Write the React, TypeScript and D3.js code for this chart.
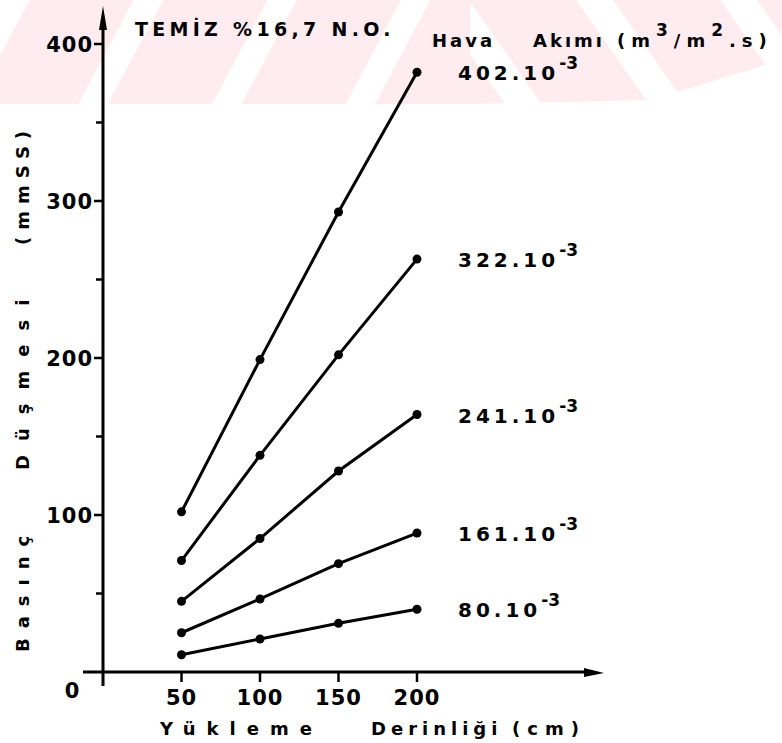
import React from "react";
import * as d3 from "d3";

// Yükleme derinliği (cm)
const depths = [50, 100, 150, 200];

// Hava akımı serileri (x10^-3 m3/m2.s) ve basınç düşmesi (mmSS)
const flowLabels = ["402", "322", "241", "161", "80"];
const drop402 = [102, 199, 293, 382];
const drop322 = [71, 138, 202, 263];
const drop241 = [45, 85, 128, 164];
const drop161 = [25, 46.5, 69, 88.5];
const drop80 = [11, 21, 31, 40];
const seriesValues = [drop402, drop322, drop241, drop161, drop80];

const yMajorTicks = [100, 200, 300, 400];
const yMinorTicks = [50, 150, 250, 350];

const width = 782;
const height = 743;
const font = "'DejaVu Sans', Verdana, sans-serif";

const x = d3.scaleLinear().domain([0, 200]).range([103, 417]);
const y = d3.scaleLinear().domain([0, 400]).range([672, 44]);

const line = d3
  .line<number>()
  .x((_, i) => x(depths[i]))
  .y((d) => y(d));

export default function App() {
  const x0 = x(0);
  const y0 = y(0);

  return (
    <svg
      width={width}
      height={height}
      viewBox={`0 0 ${width} ${height}`}
      style={{ position: "absolute", left: 0, top: 0, background: "#fff" }}
      fontFamily={font}
      fontWeight="bold"
    >
      <defs>
        <pattern id="wmL" width="118" height="118" patternUnits="userSpaceOnUse" patternTransform="rotate(28)">
          <rect width="118" height="118" fill="#feecf0" />
          <rect width="26" height="118" fill="#fff" />
        </pattern>
        <pattern id="wmR" width="118" height="118" patternUnits="userSpaceOnUse" patternTransform="rotate(-35)">
          <rect width="118" height="118" fill="#feecf0" />
          <rect width="30" height="118" fill="#fff" />
        </pattern>
      </defs>

      {/* watermark band */}
      <rect x={0} y={0} width={470} height={104} fill="url(#wmL)" />
      <path d="M470,0 L782,0 L782,60 L650,100 L470,104 Z" fill="url(#wmR)" />

      {/* y axis */}
      <line x1={x0} x2={x0} y1={20} y2={686} stroke="#000" strokeWidth={3} />
      <path d={`M${x0},6 L${x0 - 4},30 L${x0 + 4},30 Z`} fill="#000" />
      {yMajorTicks.map((t) => (
        <g key={t}>
          <line x1={x0 - 9} x2={x0} y1={y(t)} y2={y(t)} stroke="#000" strokeWidth={2.5} />
          <text x={x0 - 10} y={y(t)} dy="0.36em" textAnchor="end" fontSize={21} letterSpacing={1} fill="#000">
            {t}
          </text>
        </g>
      ))}
      {yMinorTicks.map((t) => (
        <line key={t} x1={x0 - 7} x2={x0} y1={y(t)} y2={y(t)} stroke="#000" strokeWidth={2.5} />
      ))}
      <text x={72} y={698} textAnchor="middle" fontSize={21} fill="#000">0</text>

      {/* x axis */}
      <line x1={83} x2={590} y1={y0} y2={y0} stroke="#000" strokeWidth={3} />
      <path d={`M604,${y0 + 1} L584,${y0 - 4} L584,${y0 + 5} Z`} fill="#000" />
      {depths.map((d) => (
        <g key={d}>
          <line x1={x(d)} x2={x(d)} y1={y0} y2={y0 + 10} stroke="#000" strokeWidth={2.5} />
          <text x={x(d)} y={705} textAnchor="middle" fontSize={21} letterSpacing={1} fill="#000">
            {d}
          </text>
        </g>
      ))}

      {/* axis titles */}
      <text y={735} fontSize={18} fill="#000">
        <tspan x={160} letterSpacing={11}>Yükleme</tspan>
        <tspan x={371} letterSpacing={5}>Derinliği</tspan>
        <tspan x={512} letterSpacing={7}>(cm)</tspan>
      </text>
      <text transform="translate(29,0) rotate(-90)" fontSize={18} fill="#000">
        <tspan x={-652} letterSpacing={10}>Basınç</tspan>
        <tspan x={-470} letterSpacing={14}>Düşmesi</tspan>
        <tspan x={-245} letterSpacing={7}>(mmSS)</tspan>
      </text>

      {/* header */}
      <text x={135} y={36} fontSize={19} letterSpacing={4.3} fill="#000">
        TEMİZ %16,7 N.O.
      </text>
      <text y={47} fontSize={18} fill="#000" letterSpacing={3}>
        <tspan x={432}>Hava</tspan>
        <tspan x={533}>Akımı</tspan>
        <tspan x={617} letterSpacing={6}>(m</tspan>
        <tspan dy={-11} fontSize={17} letterSpacing={6}>3</tspan>
        <tspan dy={11} letterSpacing={6}>/m</tspan>
        <tspan dy={-11} fontSize={17} letterSpacing={6}>2</tspan>
        <tspan dy={11} letterSpacing={6}>.s)</tspan>
      </text>

      {/* series */}
      {seriesValues.map((vals, i) => (
        <g key={flowLabels[i]}>
          <path d={line(vals) ?? ""} fill="none" stroke="#000" strokeWidth={3} />
          {vals.map((v, j) => (
            <circle key={j} cx={x(depths[j])} cy={y(v)} r={4.5} fill="#000" />
          ))}
          <text x={458} y={y(vals[vals.length - 1]) + 8} fontSize={20} letterSpacing={4} fill="#000">
            {flowLabels[i]}.10
            <tspan dy={-11} fontSize={17} letterSpacing={0}>-3</tspan>
          </text>
        </g>
      ))}
    </svg>
  );
}
